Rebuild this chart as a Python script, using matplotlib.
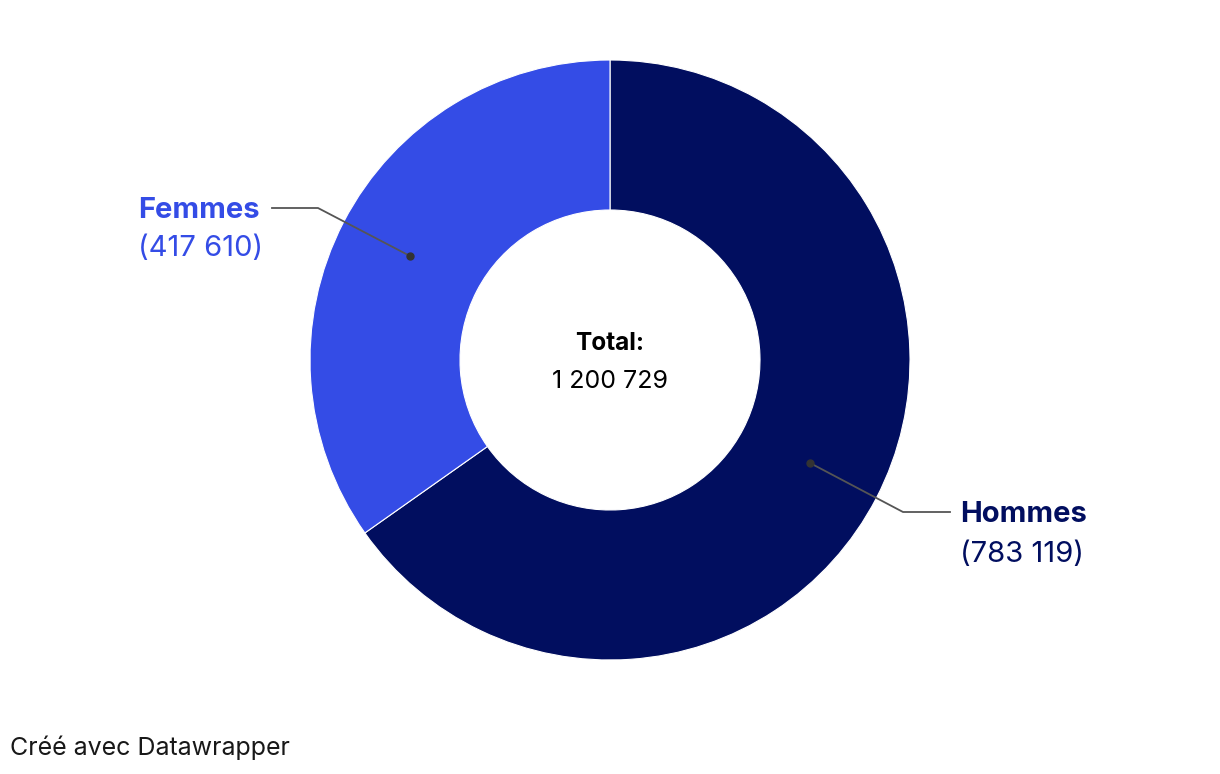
import matplotlib.pyplot as plt

# donnees
categories = ["Hommes", "Femmes"]
valeurs = [783119, 417610]
couleurs = ["#010E5F", "#344CE6"]
etiquettes = ["(783 119)", "(417 610)"]
total_txt = "1 200 729"

plt.rcParams['font.family'] = ['Inter', 'DejaVu Sans']

fig = plt.figure(figsize=(12.2, 7.74), dpi=100)
ax = fig.add_axes([0, 0, 1, 1])

H = 774
cx, cy = 610, H - 360

ax.pie(valeurs, colors=couleurs, startangle=90, counterclock=False,
       radius=300, center=(cx, cy),
       wedgeprops=dict(width=150, edgecolor="white", linewidth=0.8))

ax.set_xlim(0, 1220)
ax.set_ylim(0, H)
ax.set_aspect("equal")
ax.axis("off")

# texte central
ax.text(cx, H - 343, "Total:", ha="center", va="center", fontsize=17.5,
        fontweight="bold", color="black")
ax.text(cx, H - 382, total_txt, ha="center", va="center", fontsize=18,
        color="black")

# etiquettes avec lignes
ax.plot([410, 318, 272], [H - 256, H - 208, H - 208], color="#555555", lw=1.3)
ax.plot(410, H - 256, "o", color="#333333", ms=5)
ax.text(260, H - 210, categories[1], ha="right", va="center", fontsize=21,
        fontweight="bold", color=couleurs[1])
ax.text(201, H - 249, etiquettes[1], ha="center", va="center", fontsize=21,
        color=couleurs[1])

ax.plot([810, 903, 950], [H - 463, H - 512, H - 512], color="#555555", lw=1.3)
ax.plot(810, H - 463, "o", color="#333333", ms=5)
ax.text(960, H - 514, categories[0], ha="left", va="center", fontsize=21,
        fontweight="bold", color=couleurs[0])
ax.text(960, H - 554, etiquettes[0], ha="left", va="center", fontsize=21,
        color=couleurs[0])

ax.text(10, H - 748, "Créé avec Datawrapper", ha="left", va="center",
        fontsize=18, color="#181818")

fig.savefig("out.png", dpi=100)
